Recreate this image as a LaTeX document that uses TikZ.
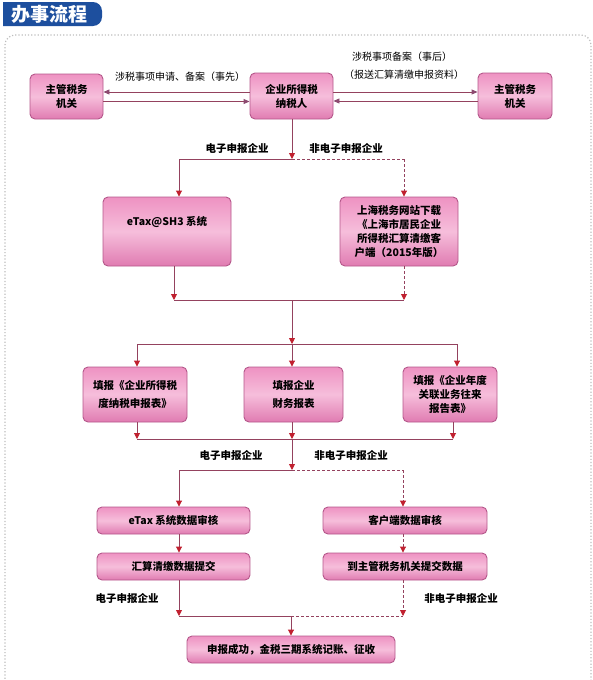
\documentclass[tikz,border=0pt]{standalone}
\usepackage{fontspec}
\setmainfont{Noto Sans CJK SC}
\usetikzlibrary{arrows.meta}
\definecolor{titleblue}{HTML}{1D4F9E}
\definecolor{framegray}{HTML}{BDBDBD}
\definecolor{boxline}{HTML}{B4578A}
\definecolor{pinkA}{HTML}{EE92C2}
\definecolor{pinkB}{HTML}{F6BEDB}
\definecolor{pinkC}{HTML}{E07BB1}
\definecolor{lncol}{HTML}{94425E}
\definecolor{arrred}{HTML}{C0202F}
\definecolor{mauve}{HTML}{8C4A70}
\begin{document}
\begin{tikzpicture}[x=1pt,y=-1pt,
  box/.style={draw=boxline, line width=0.9pt, rounded corners=5pt,
    top color=pinkA, bottom color=pinkC, middle color=pinkB,
    inner sep=0pt, align=center, font=\bfseries\fontsize{10.5}{14}\selectfont},
  boxtxt/.style={inner sep=0pt, align=center, font=\bfseries\fontsize{10.5}{14}\selectfont},
  lbl/.style={inner sep=0pt, font=\fontsize{10}{12}\selectfont},
  blbl/.style={inner sep=0pt, font=\bfseries\fontsize{10.5}{12}\selectfont},
  ln/.style={draw=lncol, line width=0.9pt},
  dln/.style={ln, dash pattern=on 3pt off 2pt},
  arr/.style={-{Triangle[length=6pt,width=6pt,color=arrred]}},
  marr/.style={-{Triangle[length=6pt,width=5pt,color=mauve]}}]
\useasboundingbox (0,0) rectangle (593,680);
% title tab
\fill[titleblue] (3,2) [rounded corners=9pt] -- (102,2) -- (102,26) [sharp corners] -- (3,26) -- cycle;
\node[inner sep=0pt, text=white, font=\bfseries\fontsize{19}{20}\selectfont] (title) at (50,14) {办事流程};
% dotted frame
\draw[framegray, line width=1.2pt, dash pattern=on 1.2pt off 2pt, rounded corners=10pt]
  (5,682) -- (5,35) -- (591,35) -- (591,682);
% top row
\node[box, minimum width=73pt, minimum height=45pt] (tax1) at (66.5,96.5) {主管税务\\机关};
\node[box, minimum width=83pt, minimum height=46pt] (tp) at (291.5,96) {企业所得税\\纳税人};
\node[box, minimum width=74pt, minimum height=46pt] (tax2) at (515,96) {主管税务\\机关};
\draw[ln,marr] ([yshift=4pt]tp.west) -- ([yshift=4pt]tp.west -| tax1.east);
\draw[ln,marr] ([yshift=-5pt]tax1.east) -- ([yshift=-5pt]tax1.east -| tp.west);
\draw[ln,marr] ([yshift=4pt]tp.east) -- ([yshift=4pt]tp.east -| tax2.west);
\draw[ln,marr] ([yshift=-5pt]tax2.west) -- ([yshift=-5pt]tax2.west -| tp.east);
\node[lbl] (l1) at (180,77) {涉税事项申请、备案（事先）};
\node[lbl] (l2) at (402,57) {涉税事项备案（事后）};
\node[lbl] (l3) at (404,75) {（报送汇算清缴申报资料）};
% split 1
\coordinate (j1) at (292,159);
\coordinate (j1l) at (179,159);
\coordinate (j1r) at (404,159);
\node[blbl] (e1) at (237,148) {电子申报企业};
\node[blbl] (n1) at (346,148) {非电子申报企业};
\node[box, minimum width=128pt, minimum height=69pt] (etax) at (167,231.5) {};
\node[boxtxt] (etaxt) at (167,222) {eTax@SH3 系统};
\node[box, minimum width=118pt, minimum height=69pt] (sw) at (399,231.5)
  {上海税务网站下载\\《上海市居民企业\\所得税汇算清缴客\\户端（2015年版）};
\draw[ln,arr] (tp.south -| j1) -- (j1);
\draw[ln] (j1) -- (j1l);
\draw[dln] (j1) -- (j1r);
\draw[ln,arr] (j1l) -- (j1l |- etax.north);
\draw[dln,arr] (j1r) -- (j1r |- sw.north);
% merge 1
\coordinate (m1) at (292,300);
\coordinate (m1l) at (174,300);
\coordinate (m1r) at (404,300);
\draw[ln,arr] (etax.south -| m1l) -- (m1l);
\draw[dln,arr] (sw.south -| m1r) -- (m1r);
\draw[ln] (m1l) -- (m1r);
% bus 2
\coordinate (p2) at (292,344);
\coordinate (p2l) at (137,344);
\coordinate (p2r) at (457,344);
\draw[ln,arr] (m1) -- (p2);
\draw[ln] (p2l) -- (p2r);
\node[box, minimum width=104pt, minimum height=55pt, font=\bfseries\fontsize{10.5}{18}\selectfont] (f1) at (135,394.5) {填报《企业所得税\\度纳税申报表》};
\node[box, minimum width=99pt, minimum height=55pt, font=\bfseries\fontsize{10.5}{18}\selectfont] (f2) at (293.5,394.5) {填报企业\\财务报表};
\node[box, minimum width=94pt, minimum height=55pt] (f3) at (450,394.5) {填报《企业年度\\关联业务往来\\报告表》};
\draw[ln,arr] (p2l) -- (p2l |- f1.north);
\draw[ln,arr] (p2) -- (p2 |- f2.north);
\draw[ln,arr] (p2r) -- (p2r |- f3.north);
% bus 3
\coordinate (c3) at (292,439);
\coordinate (c3l) at (137,439);
\coordinate (c3r) at (453,439);
\draw[ln,arr] (f1.south -| c3l) -- (c3l);
\draw[ln,arr] (f2.south -| c3) -- (c3);
\draw[ln,arr] (f3.south -| c3r) -- (c3r);
\draw[ln] (c3l) -- (c3r);
\node[blbl] (e2) at (231,455) {电子申报企业};
\node[blbl] (n2) at (351,455) {非电子申报企业};
% split 2
\coordinate (d4) at (292,470);
\coordinate (d4l) at (179,470);
\coordinate (d4r) at (403,470);
\draw[ln,arr] (c3) -- (d4);
\draw[ln] (d4) -- (d4l);
\draw[dln] (d4) -- (d4r);
\node[box, minimum width=153pt, minimum height=27pt] (a1) at (173.5,520.5) {eTax 系统数据审核};
\node[box, minimum width=164pt, minimum height=27pt] (k1) at (405,520.5) {客户端数据审核};
\node[box, minimum width=153pt, minimum height=27pt] (a2) at (173.5,566.5) {汇算清缴数据提交};
\node[box, minimum width=164pt, minimum height=27pt] (k2) at (405,566.5) {到主管税务机关提交数据};
\draw[ln,arr] (d4l) -- (d4l |- a1.north);
\draw[dln,arr] (d4r) -- (d4r |- k1.north);
\draw[ln,arr] (a1.south -| d4l) -- (a2.north -| d4l);
\draw[dln,arr] (k1.south -| d4r) -- (k2.north -| d4r);
% merge final
\coordinate (e5) at (291,616);
\coordinate (e5l) at (179,616);
\coordinate (e5r) at (403,616);
\node[blbl] (e3) at (127,598) {电子申报企业};
\node[blbl] (n3) at (461,598) {非电子申报企业};
\node[box, minimum width=208pt, minimum height=27pt] (fin) at (291,649.5) {申报成功，金税三期系统记账、征收};
\draw[ln,arr] (a2.south -| e5l) -- (e5l);
\draw[dln,arr] (k2.south -| e5r) -- (e5r);
\draw[ln] (e5l) -- (e5);
\draw[dln] (e5) -- (e5r);
\draw[ln,arr] (e5) -- (fin.north);
\end{tikzpicture}
\end{document}
